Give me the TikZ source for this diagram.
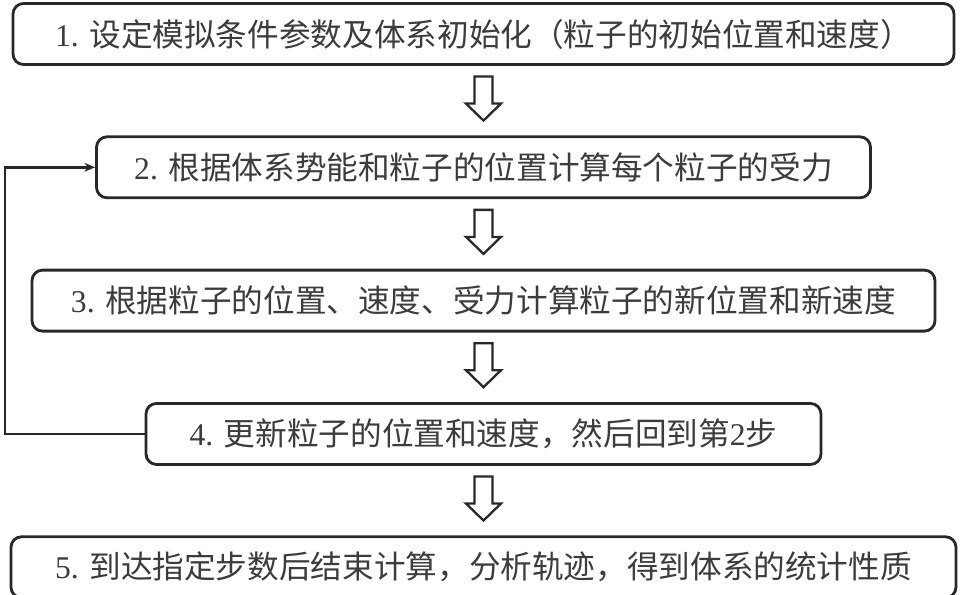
\documentclass[tikz,border=0pt]{standalone}
\usepackage{fontspec}
\setmainfont{Liberation Serif}
\newfontfamily\cjk{Noto Sans CJK SC}
\usepackage{tikz}
\usetikzlibrary{arrows.meta, positioning, calc}
\definecolor{darkgray}{RGB}{40,40,40}
\definecolor{textgray}{RGB}{60,60,60}
\tikzset{
  box/.style={rectangle, rounded corners=6pt, draw=darkgray, line width=1.6pt,
              fill=white, text centered, minimum height=1.22cm, inner sep=0pt,
              font=\fontsize{18}{20}\selectfont, text=textgray},
  loopline/.style={-{Stealth[length=6pt, width=5pt]}, line width=1.5pt, draw=darkgray},
  downarrow/.pic={
    \draw[line width=1.3pt, draw=darkgray, fill=white]
      (-0.18,0.44) -- (-0.18,-0.10) -- (-0.35,-0.10) -- (0,-0.44)
      -- (0.35,-0.10) -- (0.18,-0.10) -- (0.18,0.44) -- cycle;
  },
}

\begin{document}
\begin{tikzpicture}[node distance=1.39cm]
  \useasboundingbox (0,0) rectangle (19.34,-11.88);

  % Steps
  \node[box, minimum width=18.82cm] (init) at (9.67,-0.68)
    {1. {\cjk 设定模拟条件参数及体系初始化（粒子的初始位置和速度）}};
  \node[box, minimum width=15.48cm, below=of init] (force)
    {2. {\cjk 根据体系势能和粒子的位置计算每个粒子的受力}};
  \node[box, minimum width=18.06cm, below=of force] (move)
    {3. {\cjk 根据粒子的位置、速度、受力计算粒子的新位置和新速度}};
  \node[box, minimum width=13.5cm, below=of move] (renew)
    {4. {\cjk 更新粒子的位置和速度，然后回到第}2{\cjk 步}};
  \node[box, minimum width=18.9cm, below=of renew] (finish)
    {5. {\cjk 到达指定步数后结束计算，分析轨迹，得到体系的统计性质}};

  % Hollow arrows between steps
  \path ($(init.south)!0.47!(force.north)$) pic {downarrow};
  \path ($(force.south)!0.47!(move.north)$) pic {downarrow};
  \path ($(move.south)!0.47!(renew.north)$) pic {downarrow};
  \path ($(renew.south)!0.47!(finish.north)$) pic {downarrow};

  % Loop back to step 2
  \coordinate (edge) at (0.1,0);
  \draw[loopline] (renew.west) -- (renew.west -| edge) |- (force.west);
\end{tikzpicture}
\end{document}
